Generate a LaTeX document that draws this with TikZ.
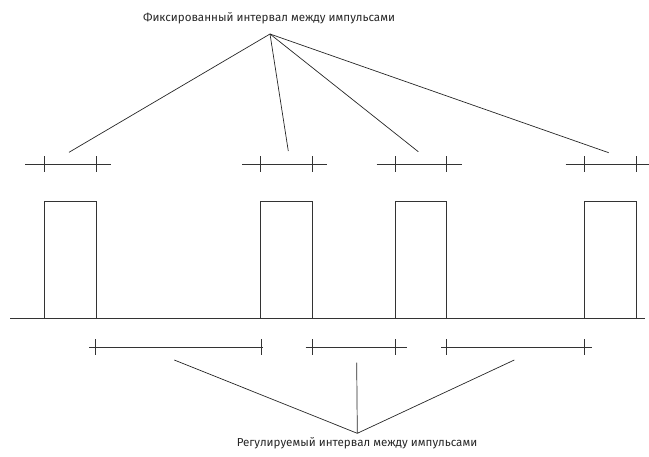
\documentclass[tikz,border=0pt]{standalone}
\usepackage{fontspec}
\setmainfont{Fira Sans}
\begin{document}
\begin{tikzpicture}[x=1pt,y=-1pt]
	\tikzstyle{sigline} = [draw=black!80, line width=0.9pt]
	\tikzstyle{leader} = [draw=black!85, line width=0.7pt]
	\tikzstyle{caption} = [font=\fontsize{11.6}{13}\selectfont, text=black!85, inner sep=0pt]

	\def\ybase{318}
	\def\ytop{201}
	\def\yfix{164}
	\def\yreg{347}
	\def\tick{8}

	\useasboundingbox (0,0) rectangle (649,456);

	% NODES %
	\node[caption] (fixlabel) at (269,18) {Фиксированный интервал между импульсами};
	\node[caption] (reglabel) at (357,443) {Регулируемый интервал между импульсами};

	\coordinate (fixapex) at (270,34);
	\coordinate (fixend1) at (69,152.3);
	\coordinate (fixend2) at (288.3,151);
	\coordinate (fixend3) at (418.3,151.7);
	\coordinate (fixend4) at (608.7,152.7);

	\coordinate (regapex) at (357.3,433.3);
	\coordinate (regend1) at (174.3,360);
	\coordinate (regend2) at (356.7,362.7);
	\coordinate (regend3) at (514.3,360);

	% PULSES %
	\draw[sigline] (10,\ybase) -- (645,\ybase);
	\draw[sigline] (44,\ybase) |- (96,\ytop) -- (96,\ybase);
	\draw[sigline] (260.7,\ybase) |- (312.7,\ytop) -- (312.7,\ybase);
	\draw[sigline] (395,\ybase) |- (446.7,\ytop) -- (446.7,\ybase);
	\draw[sigline] (584.3,\ybase) |- (636,\ytop) -- (636,\ybase);

	% FIXED INTERVALS %
	\draw[sigline] (25,\yfix) -- (110.7,\yfix);
	\draw[sigline] (44,\yfix-\tick) -- (44,\yfix+\tick);
	\draw[sigline] (96,\yfix-\tick) -- (96,\yfix+\tick);
	\draw[sigline] (242,\yfix) -- (327,\yfix);
	\draw[sigline] (260.7,\yfix-\tick) -- (260.7,\yfix+\tick);
	\draw[sigline] (312.7,\yfix-\tick) -- (312.7,\yfix+\tick);
	\draw[sigline] (376.7,\yfix) -- (461.7,\yfix);
	\draw[sigline] (395,\yfix-\tick) -- (395,\yfix+\tick);
	\draw[sigline] (446.7,\yfix-\tick) -- (446.7,\yfix+\tick);
	\draw[sigline] (565.7,\yfix) -- (649,\yfix);
	\draw[sigline] (584.3,\yfix-\tick) -- (584.3,\yfix+\tick);
	\draw[sigline] (636,\yfix-\tick) -- (636,\yfix+\tick);

	% REGULATED INTERVALS %
	\draw[sigline] (89.3,\yreg) -- (263.3,\yreg);
	\draw[sigline] (95.3,\yreg-\tick) -- (95.3,\yreg+\tick);
	\draw[sigline] (261,\yreg-\tick) -- (261,\yreg+\tick);
	\draw[sigline] (305.7,\yreg) -- (406.7,\yreg);
	\draw[sigline] (312.7,\yreg-\tick) -- (312.7,\yreg+\tick);
	\draw[sigline] (395,\yreg-\tick) -- (395,\yreg+\tick);
	\draw[sigline] (441,\yreg) -- (591.7,\yreg);
	\draw[sigline] (446.7,\yreg-\tick) -- (446.7,\yreg+\tick);
	\draw[sigline] (584.3,\yreg-\tick) -- (584.3,\yreg+\tick);

	% LEADERS %
	%fixed
	\draw[leader] (fixapex) -- (fixend1);
	\draw[leader] (fixapex) -- (fixend2);
	\draw[leader] (fixapex) -- (fixend3);
	\draw[leader] (fixapex) -- (fixend4);
	%regulated
	\draw[leader] (regapex) -- (regend1);
	\draw[leader] (regapex) -- (regend2);
	\draw[leader] (regapex) -- (regend3);
\end{tikzpicture}
\end{document}
